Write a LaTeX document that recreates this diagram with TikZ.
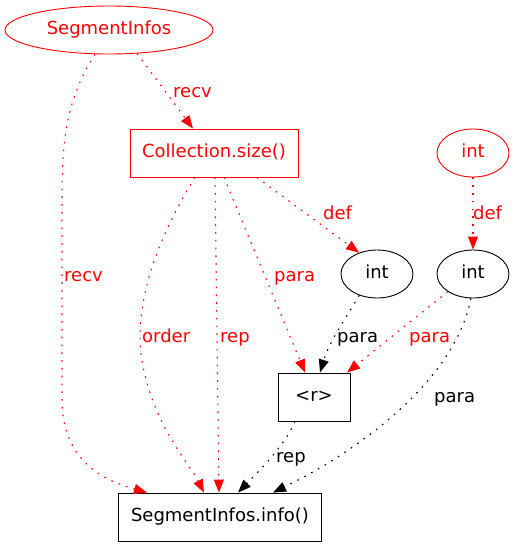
\documentclass[tikz,border=0pt]{standalone}
\usepackage{fontspec}
\setmainfont{DejaVu Sans}
\usetikzlibrary{arrows.meta,shapes.geometric,calc}
\begin{document}
\begin{tikzpicture}[x=1pt,y=-1pt,
  every node/.style={font=\fontsize{18}{20}\selectfont},
  ell/.style={ellipse,draw,line width=0.9pt,inner sep=0pt,minimum height=48pt,text height=13pt,text depth=4pt},
  box/.style={rectangle,draw,line width=0.9pt,inner sep=0pt,minimum height=48pt,text height=13pt,text depth=4pt},
  rednode/.style={draw=red,text=red},
  conn/.style={line width=1.1pt,dash pattern=on 1.6pt off 6.2pt,-{Triangle[length=13pt,width=10pt]}},
  rconn/.style={conn,red},
  lab/.style={anchor=base west,inner sep=0pt},
  rlab/.style={lab,text=red},
]
\useasboundingbox (0,0) rectangle (515,547);
% nodes
\node[ell,rednode,minimum width=208pt] (si) at (109,30) {SegmentInfos};
\node[box,rednode,minimum width=168pt] (cs) at (214,153) {Collection.size()};
\node[ell,rednode,minimum width=72pt] (ri) at (473,153) {int};
\node[ell,minimum width=72pt] (i1) at (377,274) {int};
\node[ell,minimum width=72pt] (i2) at (473,274) {int};
\node[box,minimum width=72pt] (r) at (314,397) {<r>};
\node[box,minimum width=203pt] (info) at (220,517) {SegmentInfos.info()};
% edges
\draw[rconn] (si.-40) -- ($(cs.north)+(-21,0)$);
\draw[rconn] (si.-120) .. controls (66,100) and (62,140) .. (62,200) -- (62,400)
   .. controls (62,465) and (110,482) .. ($(info.north)+(-73,0)$);
\draw[rconn] ($(cs.south)+(-19,0)$) .. controls (150,250) and (130,320) .. (145,375)
   .. controls (158,430) and (190,465) .. ($(info.north)+(-16,0)$);
\draw[rconn] ($(cs.south)+(1,0)$) -- ($(info.north)+(-1,0)$);
\draw[rconn] ($(cs.south)+(10,0)$) -- ($(r.north)+(-9,0)$);
\draw[rconn] ($(cs.south)+(43,0)$) -- (i1.130);
\draw[rconn] (ri.south) -- (i2.north);
\draw[conn] (i1.-130) .. controls (345,320) and (330,340) .. ($(r.north)+(6,0)$);
\draw[rconn] (i2.-145) -- ($(r.north)+(33,0)$);
\draw[conn] (i2.-95) .. controls (455,380) and (360,450) .. ($(info.north)+(53,0)$);
\draw[conn] ($(r.south)+(-19,0)$) .. controls (285,445) and (260,470) .. ($(info.north)+(18,0)$);
% labels
\node[rlab] (l1) at (173,97) {recv};
\node[rlab] (l2) at (64,281) {recv};
\node[rlab] (l3) at (142,342) {order};
\node[rlab] (l4) at (220,342) {rep};
\node[rlab] (l5) at (274,281) {para};
\node[rlab] (l6) at (323,219) {def};
\node[rlab] (l7) at (473,219) {def};
\node[lab] (l8) at (337,342) {para};
\node[rlab] (l9) at (409,342) {para};
\node[lab] (l10) at (434,402) {para};
\node[lab] (l11) at (276,462) {rep};
\end{tikzpicture}
\end{document}
